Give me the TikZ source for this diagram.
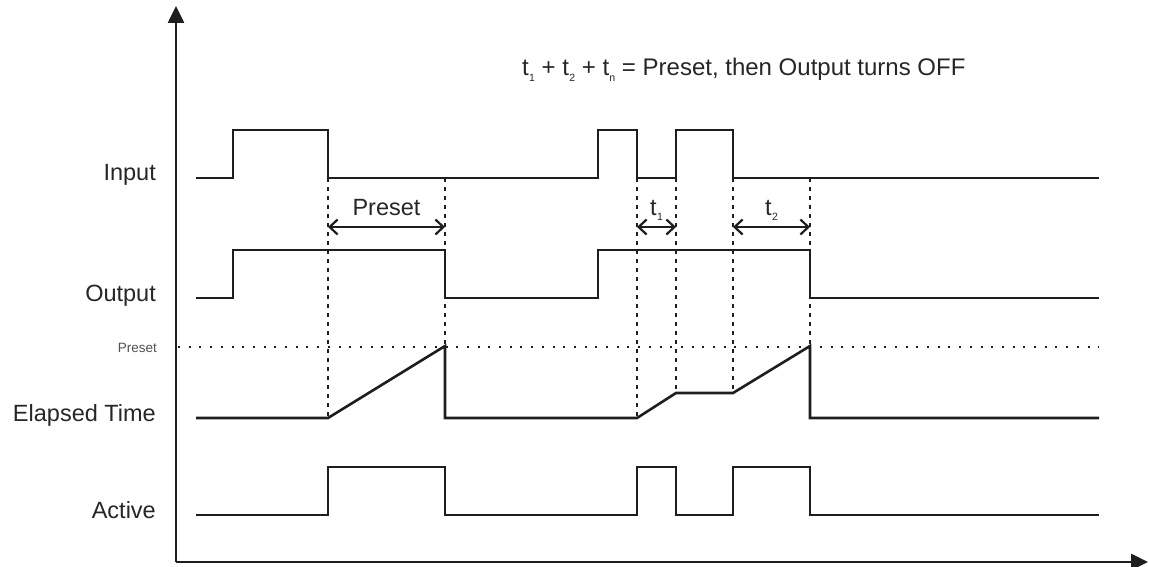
\documentclass[tikz,border=0pt]{standalone}
\usepackage{fontspec}
\setmainfont{Liberation Sans}
\usetikzlibrary{arrows.meta}
\definecolor{lc}{HTML}{1E1E1E}
\definecolor{tc}{HTML}{262626}
\newcommand\tsub[1]{\hspace{0.3pt}\raisebox{-0.45ex}{\fontsize{10.5}{10.5}\selectfont #1}}
\begin{document}
\begin{tikzpicture}[x=1pt,y=-1pt,
  sig/.style={line width=2.6pt, draw=lc, line join=miter},
  guide/.style={line width=2.4pt, draw=lc, dash pattern=on 4pt off 5pt},
  presetline/.style={line width=2.2pt, draw=lc, dash pattern=on 2pt off 8.7pt},
  axis/.style={line width=2.6pt, draw=lc, -{Triangle[length=17pt,width=16pt]}},
  dim/.style={line width=1.5pt, draw=lc, {Straight Barb[length=8pt,width=15pt,line width=2.2pt]}-{Straight Barb[length=8pt,width=15pt,line width=2.2pt]}},
  lab/.style={text=tc, font=\fontsize{23.5}{28}\selectfont, inner sep=0pt},
  titlelab/.style={text=tc, font=\fontsize{24}{28}\selectfont, inner sep=0pt},
  smalllab/.style={text=tc!80, font=\fontsize{13.5}{16}\selectfont, inner sep=0pt}]
\useasboundingbox (0,0) rectangle (1149,567);

% labels
\node[lab, anchor=base east] (lin) at (156,181) {Input};
\node[lab, anchor=base east] (lout) at (156,301) {Output};
\node[smalllab, anchor=base east] (lpre) at (157,352) {Preset};
\node[lab, anchor=base east] (lel) at (156,421) {Elapsed Time};
\node[lab, anchor=base east] (lact) at (156,518) {Active};
\node[titlelab, anchor=base west] (title) at (522,76) {t\tsub{1} + t\tsub{2} + t\tsub{n} = Preset, then Output turns OFF};

% guide lines
\draw[guide] (328,178) -- (328,418);
\draw[guide] (445,178) -- (445,346);
\draw[guide] (637,178) -- (637,418);
\draw[guide] (676,178) -- (676,393);
\draw[guide] (733,178) -- (733,393);
\draw[guide] (810,178) -- (810,346);
\draw[presetline] (178,347) -- (1099,347);

% axes
\coordinate (org) at (176,562);
\coordinate (ytop) at (176,6);
\coordinate (xend) at (1148,562);
\draw[axis] (org) -- (ytop);
\draw[axis] (org) -- (xend);

% signals
\draw[sig] (196,178) -| (233,130) -| (328,178) -| (598,130) -| (637,178) -| (676,130) -| (733,178) -- (1099,178);
\draw[sig] (196,298) -| (233,250) -| (445,298) -| (598,250) -| (810,298) -- (1099,298);
\draw[sig] (196,418) -- (328,418) -- (445,346) -- (445,418) -- (637,418) -- (676,393) -- (733,393) -- (810,346) -- (810,418) -- (1099,418);
\draw[sig] (196,515) -| (328,467) -| (445,515) -| (637,467) -| (676,515) -| (733,467) -| (810,515) -- (1099,515);

% dimension arrows
\coordinate (pa) at (328,227);
\coordinate (pb) at (445,227);
\coordinate (t1a) at (637,227);
\coordinate (t1b) at (676,227);
\coordinate (t2a) at (733,227);
\coordinate (t2b) at (810,227);
\draw[dim] (pa) -- (pb);
\draw[dim] (t1a) -- (t1b);
\draw[dim] (t2a) -- (t2b);
\node[lab, anchor=base] (plab) at (386.5,215) {Preset};
\node[lab, anchor=base] (t1lab) at (656.5,215) {t\tsub{1}};
\node[lab, anchor=base] (t2lab) at (771.5,215) {t\tsub{2}};
\end{tikzpicture}
\end{document}
